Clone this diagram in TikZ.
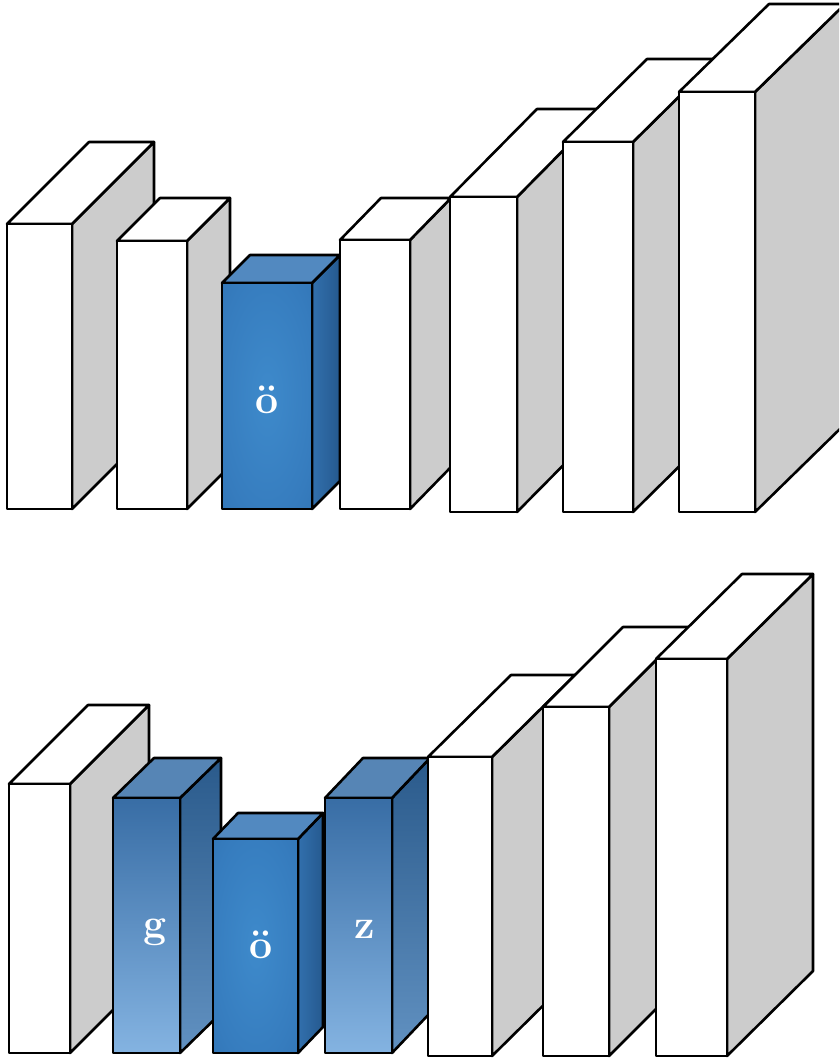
\documentclass[tikz,border=0pt]{standalone}
\usepackage{fontspec}
\usetikzlibrary{shadings}
\definecolor{sidegray}{HTML}{CCCCCC}
\definecolor{bInner}{HTML}{3E8ACB}
\definecolor{bMid}{HTML}{367CBE}
\definecolor{bOuter}{HTML}{2D6EAE}
\definecolor{bTop}{HTML}{5289C0}
\definecolor{bSideL}{HTML}{3270AD}
\definecolor{bSideR}{HTML}{25598F}
\definecolor{gFrontT}{HTML}{386DA5}
\definecolor{gFrontB}{HTML}{84B3E1}
\definecolor{gSideT}{HTML}{2A5A8B}
\definecolor{gSideB}{HTML}{6191C1}
\definecolor{gTop}{HTML}{5685B5}
\pgfdeclareradialshading{softblue}{\pgfpoint{0bp}{0bp}}{%
  color(0bp)=(bInner); color(28bp)=(bMid); color(50bp)=(bOuter)}
\tikzset{
  edge/.style={draw=black, line width=2.6pt, line join=round},
  wfront/.style={edge, fill=white},
  wtop/.style={edge, fill=white},
  wside/.style={edge, fill=sidegray},
  rfront/.style={edge, shading=softblue},
  rtop/.style={edge, fill=bTop},
  rside/.style={edge, left color=bSideL, right color=bSideR},
  lfront/.style={edge, top color=gFrontT, bottom color=gFrontB},
  ltop/.style={edge, fill=gTop},
  lside/.style={edge, top color=gSideT, bottom color=gSideB},
  letter/.style={text=white, font=\bfseries\fontsize{41}{41}\selectfont, inner sep=0pt, anchor=base}
}
% #1 style prefix, #2 x1, #3 ytop, #4 x2, #5 ybot, #6 dx, #7 dy
\newcommand\prismbox[7]{%
  \draw[#1side] (#4,#3) -- ({#4+#6},{#3-#7}) -- ({#4+#6},{#5-#7}) -- (#4,#5) -- cycle;
  \draw[#1top] (#2,#3) -- ({#2+#6},{#3-#7}) -- ({#4+#6},{#3-#7}) -- (#4,#3) -- cycle;
  \draw[#1front] (#2,#3) rectangle (#4,#5);
}
\begin{document}
\begin{tikzpicture}[x=1pt, y=-1pt]
\useasboundingbox (0,0) rectangle (839,1059);
\clip (0,0) rectangle (839,1059);
% top row
\prismbox{w}{7}{224}{72}{509}{82}{82}
\prismbox{w}{117}{241}{187}{509}{43}{43}
\prismbox{r}{222}{283}{312}{509}{28}{28}
\prismbox{w}{340}{240}{410}{509}{41}{42}
\prismbox{w}{450}{197}{517}{512}{87}{88}
\prismbox{w}{563}{142}{633}{512}{84}{83}
\prismbox{w}{679}{92}{755}{512}{90}{88}
\node[letter] (topo) at (267,413) {ö};
% bottom row
\prismbox{w}{9}{784}{70}{1053}{79}{79}
\prismbox{l}{113}{798}{180}{1053}{41}{40}
\prismbox{r}{213}{839}{298}{1053}{25}{26}
\prismbox{l}{325}{798}{392}{1053}{38}{40}
\prismbox{w}{428}{757}{492}{1056}{83}{82}
\prismbox{w}{543}{707}{609}{1056}{80}{80}
\prismbox{w}{656}{659}{727}{1056}{86}{85}
\node[letter] (botg) at (155,937) {g};
\node[letter] (boto) at (261,958) {ö};
\node[letter] (botz) at (365,938) {z};
\end{tikzpicture}
\end{document}
